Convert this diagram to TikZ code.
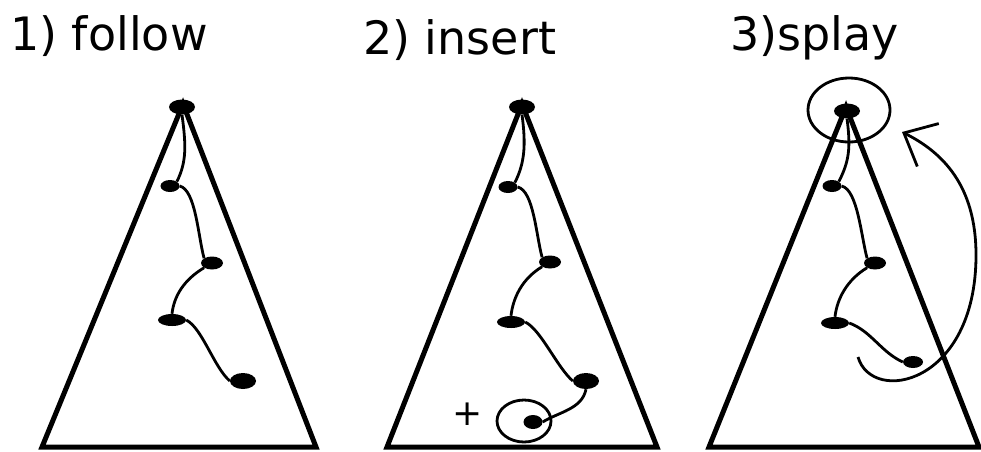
\documentclass[tikz,border=0pt]{standalone}
\usepackage{fontspec}
\setmainfont{DejaVu Sans}
\usetikzlibrary{arrows.meta,shapes.geometric}
\definecolor{inkblack}{HTML}{000000}
\tikzset{
  treeside/.style={
    draw=inkblack,
    line width=5pt,
    line join=miter,
  },
  keynode/.style={
    ellipse,
    fill=inkblack,
    minimum width=22pt,
    minimum height=13pt,
    inner sep=0pt,
  },
  childlink/.style={
    draw=inkblack,
    line width=2.8pt,
  },
  marker/.style={
    draw=inkblack,
    line width=2.8pt,
  },
  swing/.style={
    -{Straight Barb[length=27pt,width=48pt]},
    draw=inkblack,
    line width=2.8pt,
  },
  steptitle/.style={
    anchor=base west,
    inner sep=0pt,
    text=inkblack,
    font=\fontsize{46}{50}\selectfont,
  },
}

\begin{document}
\begin{tikzpicture}[x=1pt,y=-1pt]
  \useasboundingbox (0,0) rectangle (981,451);

  % Step titles.
  \node[steptitle] (title1) at (10,50) {1) follow};
  \node[steptitle] (title2) at (363,54) {2) insert};
  \node[steptitle] (title3) at (730,50) {3)splay};

  % Tree outlines.
  \draw[treeside] (183,104) -- (42,447) -- (316,447) -- cycle;
  \draw[treeside] (522,104) -- (387,447) -- (657,447) -- cycle;
  \draw[treeside] (846,107) -- (709,447) -- (979,447) -- cycle;

  % Search path in the first tree.
  \node[keynode, minimum width=26pt, minimum height=15pt] (r1) at (182,107) {};
  \node[keynode, minimum width=19pt, minimum height=12pt] (a1) at (170,186) {};
  \node[keynode] (b1) at (212,263) {};
  \node[keynode, minimum width=28pt, minimum height=12pt] (c1) at (172,320) {};
  \node[keynode, minimum width=26pt, minimum height=16pt] (d1) at (243,381) {};

  \draw[childlink] (r1.south) .. controls +(4,30) and +(10,-20) .. (a1.north east);
  \draw[childlink] (a1.east) .. controls +(16,4) and +(-6,-22) .. (b1.north west);
  \draw[childlink] (b1.south west) .. controls +(-20,12) and +(2,-18) .. (c1.north);
  \draw[childlink] (c1.east) .. controls +(16,8) and +(-16,-14) .. (d1.west);

  % Same path in the second tree, with the new key.
  \node[keynode, minimum width=26pt, minimum height=15pt] (r2) at (522,107) {};
  \node[keynode, minimum width=19pt, minimum height=12pt] (a2) at (508,187) {};
  \node[keynode] (b2) at (550,262) {};
  \node[keynode, minimum width=28pt, minimum height=12pt] (c2) at (511,322) {};
  \node[keynode, minimum width=26pt, minimum height=16pt] (d2) at (586,381) {};
  \node[keynode, minimum width=19pt, minimum height=14pt] (e2) at (533,422) {};

  \draw[childlink] (r2.south) .. controls +(4,30) and +(10,-20) .. (a2.north east);
  \draw[childlink] (a2.east) .. controls +(16,4) and +(-6,-22) .. (b2.north west);
  \draw[childlink] (b2.south west) .. controls +(-20,12) and +(2,-18) .. (c2.north);
  \draw[childlink] (c2.east) .. controls +(16,8) and +(-16,-14) .. (d2.west);
  \draw[childlink] (d2.south) .. controls +(-4,20) and +(16,-10) .. (e2.east);

  \draw[marker] (e2) ++(-9,-1) ellipse [x radius=27, y radius=21];
  \node[font=\fontsize{36}{36}\selectfont, inner sep=0pt] (plus) at (468,414) {+};

  % Third tree: the new key is splayed up to the root.
  \node[keynode, minimum width=26pt, minimum height=15pt] (r3) at (847,111) {};
  \node[keynode, minimum width=19pt, minimum height=12pt] (a3) at (832,186) {};
  \node[keynode] (b3) at (875,263) {};
  \node[keynode, minimum width=28pt, minimum height=12pt] (c3) at (835,323) {};
  \node[keynode, minimum width=20pt, minimum height=12pt] (d3) at (913,362) {};

  \draw[childlink] (r3.south) .. controls +(4,30) and +(10,-20) .. (a3.north east);
  \draw[childlink] (a3.east) .. controls +(16,4) and +(-6,-22) .. (b3.north west);
  \draw[childlink] (b3.south west) .. controls +(-20,12) and +(2,-18) .. (c3.north);
  \draw[childlink] (c3.east) .. controls +(22,8) and +(-22,-10) .. (d3.west);

  \draw[marker] (r3) ++(2,-1) ellipse [x radius=41, y radius=32];

  \coordinate (swing start) at (858,357);
  \coordinate (swing end) at (902,132);
  \draw[swing] (swing start) .. controls +(14,48) and +(0,130) .. (976,255)
    .. controls +(0,-70) and +(40,20) .. (swing end);
\end{tikzpicture}
\end{document}
